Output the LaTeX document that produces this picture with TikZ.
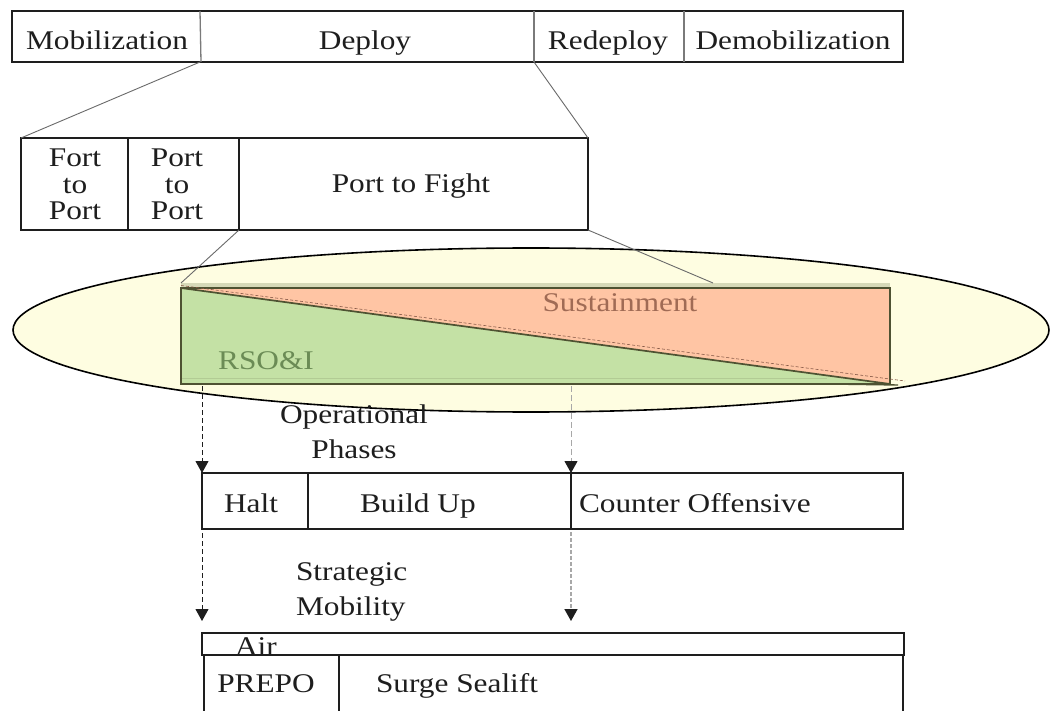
\documentclass[tikz,border=0pt]{standalone}
\usepackage{fontspec}
\setmainfont{Liberation Serif}[FakeStretch=1.16]
\usetikzlibrary{shapes.geometric,arrows.meta}

\definecolor{ink}{HTML}{1E1E1E}
\definecolor{rule}{HTML}{6A6A6A}
\definecolor{divgray}{HTML}{7A7A7A}
\definecolor{paleyellow}{HTML}{FEFDE1}
\definecolor{rsoigreen}{HTML}{C4E1A5}
\definecolor{sustsalmon}{HTML}{FFC5A4}
\definecolor{olive}{HTML}{4E5232}
\definecolor{bandtan}{HTML}{D6D9B8}
\definecolor{rsoitext}{HTML}{6B8B55}
\definecolor{susttext}{HTML}{A06B55}
\definecolor{dashgray}{HTML}{A8A8A8}

\begin{document}
\begin{tikzpicture}[x=1pt, y=-1pt,
  blank/.style={rectangle, inner sep=0pt, outer sep=0pt},
  cell/.style={blank, draw=ink, line width=1.4pt},
  frame/.style={draw=ink, line width=1.4pt},
  divider/.style={draw=divgray, line width=1.3pt},
  txt/.style={anchor=base, inner sep=0pt, outer sep=0pt, text=ink,
    font=\fontsize{27pt}{26.5pt}\selectfont},
  ltxt/.style={txt, anchor=base west},
  link/.style={draw=rule, line width=0.9pt},
  dasharrow/.style={draw=ink, line width=1pt, dash pattern=on 5pt off 3pt,
    -{Triangle[width=13pt,length=12pt,color=ink]}}]

\useasboundingbox (0,0) rectangle (1055,711);
\clip (0,0) rectangle (1055,711);
\fill[white] (0,0) rectangle (1055,711);

% ---- campaign phases ----
\node[blank, minimum width=188pt, minimum height=51pt] (mob)   at (106,36.5) {};
\node[blank, minimum width=334pt, minimum height=51pt] (dep)   at (367,36.5) {};
\node[blank, minimum width=150pt, minimum height=51pt] (redep) at (609,36.5) {};
\node[blank, minimum width=219pt, minimum height=51pt] (demob) at (793.5,36.5) {};
\draw[frame] (mob.north west) rectangle (demob.south east);
\draw[divider] (mob.north east) -- ([xshift=1pt]mob.south east);
\draw[divider] (dep.north east) -- (dep.south east);
\draw[divider] (redep.north east) -- (redep.south east);
\node[txt] (tmob)   at (107,50) {Mobilization};
\node[txt] (tdep)   at (365,50) {Deploy};
\node[txt] (tredep) at (608,50) {Redeploy};
\node[txt] (tdemob) at (793,50) {Demobilization};

% ---- deployment segments ----
\node[cell, minimum width=107pt, minimum height=92pt] (f2p) at (74.5,184) {};
\node[cell, minimum width=111pt, minimum height=92pt] (p2p) at (183.5,184) {};
\node[cell, minimum width=349pt, minimum height=92pt] (p2f) at (413.5,184) {};
% multi-line labels: the base anchor sits on the last line
\node[txt, align=center] (tf2p) at (75,220) {Fort\\to\\Port};
\node[txt, align=center] (tp2p) at (177,220) {Port\\to\\Port};
\node[txt] (tp2f) at (411,193) {Port to Fight};

% ---- theatre ellipse ----
\node[ellipse, draw=black, line width=1.6pt, fill=paleyellow, inner sep=0pt,
      minimum width=1036pt, minimum height=164pt] (theatre) at (531,330) {};

% ---- RSO&I / sustainment wedge ----
\coordinate (bandL) at (181,283);
\coordinate (bandM) at (713,283);
\fill[bandtan] (bandL) rectangle (890,288);
\node[blank, minimum width=709pt, minimum height=96pt] (flow) at (535.5,336) {};
\fill[sustsalmon] (flow.north west) -- (flow.north east) -- (flow.south east) -- cycle;
\fill[rsoigreen] (flow.north west) -- (flow.south west) -- (flow.south east) -- cycle;
\draw[rsoigreen!85!olive, line width=0.6pt] (181,378) -- (827,378);
\draw[olive, line width=1.2pt] (flow.north west) rectangle (flow.south east);
\draw[susttext!85!black, line width=0.6pt, dash pattern=on 3pt off 2pt]
  ([yshift=2.5pt]flow.north west) -- (905,381);
\draw[olive, line width=1.7pt] (flow.north west) -- (flow.south east);
\draw[olive, line width=1.4pt] (827,384) -- (898,385);
\node[txt, text=susttext] (tsust) at (620,312) {Sustainment};
\node[txt, text=rsoitext] (trsoi) at (266,369) {RSO\&I};

% ---- zoom links ----
\draw[link] (mob.south east) -- (f2p.north west);
\draw[link] (dep.south east) -- (p2f.north east);
\draw[link] (p2p.south east) -- (bandL);
\draw[link] (p2f.south east) -- (bandM);

% ---- operational phases ----
\node[cell, minimum width=106pt, minimum height=56pt] (halt)    at (255,501) {};
\node[cell, minimum width=263pt, minimum height=56pt] (build)   at (439.5,501) {};
\node[cell, minimum width=332pt, minimum height=56pt] (counter) at (737,501) {};
\node[txt, align=center, font=\fontsize{27pt}{35pt}\selectfont] (topph) at (354,458) {Operational\\Phases};
\node[txt] (thalt) at (251,512) {Halt};
\node[ltxt] (tbuild) at (360,512) {Build Up};
\node[ltxt] (tcounter) at (579,512) {Counter Offensive};

% ---- strategic mobility ----
\node[cell, minimum width=702pt, minimum height=22pt] (air) at (553,644) {};
\draw[ink, line width=2.4pt] (air.south west) -- (air.south east);
\node[cell, minimum width=135pt, minimum height=70pt] (prepo) at (271.5,690) {};
\node[cell, minimum width=564pt, minimum height=70pt] (surge) at (621,690) {};
\node[ltxt, align=left, font=\fontsize{27pt}{35pt}\selectfont] (tstrat) at (296,615) {Strategic\\Mobility};
\node[txt] (tair) at (256,655) {Air};
\node[txt] (tprepo) at (266,692) {PREPO};
\node[ltxt] (tsurge) at (376,692) {Surge Sealift};

% ---- timing arrows ----
\coordinate (rsoifoot) at (202,386);
\coordinate (sustfoot) at (571,386);
\coordinate (airtipL) at (202,621);
\coordinate (airtipR) at (571,621);
\draw[dasharrow] (rsoifoot) -- (halt.north west);
\draw[dasharrow, draw=dashgray, dash pattern=on 6pt off 3pt] (sustfoot) -- (build.north east);
\draw[dasharrow] ([yshift=-4pt]halt.south west) -- (airtipL);
\draw[dasharrow, draw=dashgray, line width=1.6pt, dash pattern=on 4pt off 2pt]
  ([yshift=-3pt]build.south east) -- (airtipR);
\end{tikzpicture}
\end{document}
